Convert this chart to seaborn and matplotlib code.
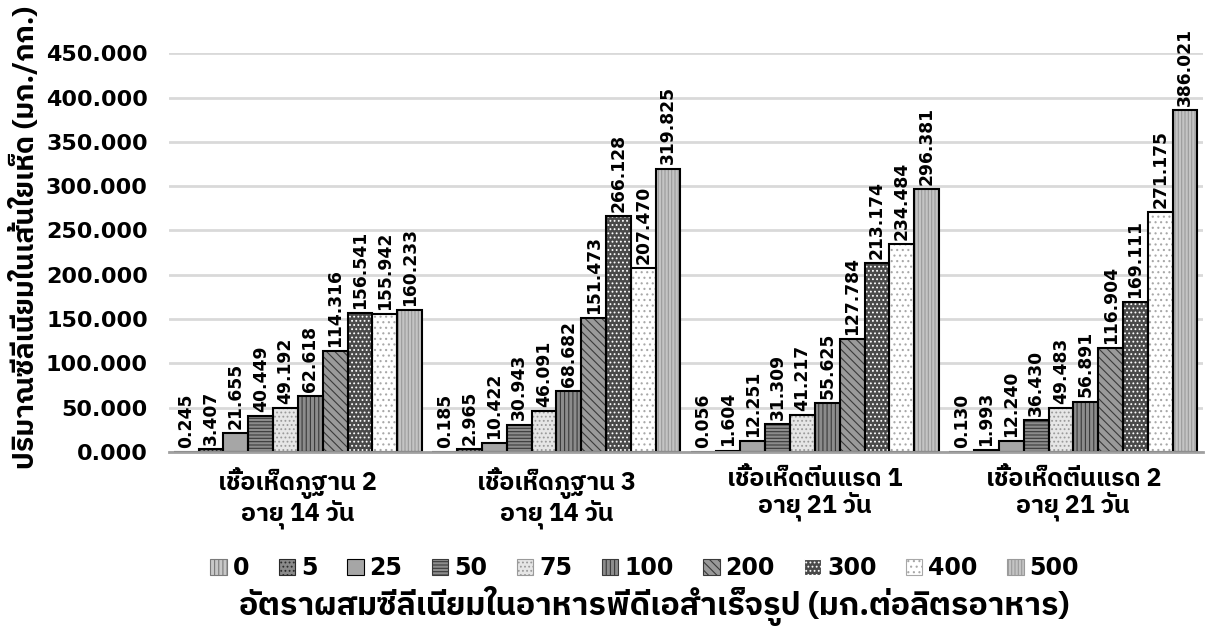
import numpy as np
import pandas as pd
import matplotlib
matplotlib.use("Agg")
import matplotlib.pyplot as plt
import matplotlib.patches as mpatches
from matplotlib import font_manager
from matplotlib.ft2font import FT2Font
import seaborn as sns

# --- data -------------------------------------------------------------------
groups = [
    "เชื้อเห็ดภูฐาน 2\nอายุ 14 วัน",
    "เชื้อเห็ดภูฐาน 3\nอายุ 14 วัน",
    "เชื้อเห็ดตีนแรด 1\nอายุ 21 วัน",
    "เชื้อเห็ดตีนแรด 2\nอายุ 21 วัน",
]
doses = ["0", "5", "25", "50", "75", "100", "200", "300", "400", "500"]

bhutan_2 = [0.245, 3.407, 21.655, 40.449, 49.192, 62.618, 114.316, 156.541, 155.942, 160.233]
bhutan_3 = [0.185, 2.965, 10.422, 30.943, 46.091, 68.682, 151.473, 266.128, 207.470, 319.825]
teenrad_1 = [0.056, 1.604, 12.251, 31.309, 41.217, 55.625, 127.784, 213.174, 234.484, 296.381]
teenrad_2 = [0.130, 1.993, 12.240, 36.430, 49.483, 56.891, 116.904, 169.111, 271.175, 386.021]

y_ticks = [0, 50, 100, 150, 200, 250, 300, 350, 400, 450]
x_title = "อัตราผสมซีลีเนียมในอาหารพีดีเอสำเร็จรูป (มก.ต่อลิตรอาหาร)"
y_title = "ปริมาณซีลีเนียมในเส้นใยเห็ด (มก./กก.)"

# --- bar styling per dose: face colour, hatch, hatch colour -----------------
faces = ["#c8c8c8", "#8a8a8a", "#a6a6a6", "#8c8c8c", "#e6e6e6",
         "#8c8c8c", "#9a9a9a", "#4a4a4a", "#ffffff", "#c4c4c4"]
hatches = ["||||", "....", "", "-----", "....",
           "||||", "\\\\\\\\", "....", "...", "|||||"]
hatch_cols = ["#7a7a7a", "#2a2a2a", "#a6a6a6", "#3a3a3a", "#9a9a9a",
              "#3a3a3a", "#3a3a3a", "#ffffff", "#a8a8a8", "#9a9a9a"]


def thai_family():
    preferred = []
    others = []
    for entry in font_manager.fontManager.ttflist:
        try:
            cmap = FT2Font(entry.fname).get_charmap()
        except Exception:
            continue
        if 0x0E2D in cmap and 0x0E40 in cmap:
            if "Thai" in entry.name:
                preferred.append(entry.name)
            else:
                others.append(entry.name)
    found = preferred + others
    return found[0] if found else None


sns.set_theme(style="white")
thai = thai_family()
families = ([thai] if thai else []) + ["DejaVu Sans"]
plt.rcParams["font.family"] = families
plt.rcParams["hatch.linewidth"] = 0.8
plt.rcParams["text.color"] = "black"
plt.rcParams["xtick.color"] = "black"
plt.rcParams["ytick.color"] = "black"

series = [bhutan_2, bhutan_3, teenrad_1, teenrad_2]
df = pd.DataFrame({
    "group": np.repeat(groups, len(doses)),
    "dose": doses * len(groups),
    "value": np.concatenate(series),
})

fig = plt.figure(figsize=(12.05, 6.26), dpi=100)
ax = fig.add_axes([0.140, 0.278, 0.858, 0.637])

sns.barplot(data=df, x="group", y="value", hue="dose", order=groups,
            hue_order=doses, palette=faces, width=0.96, ax=ax,
            edgecolor="black", linewidth=1.3, legend=False, errorbar=None,
            saturation=1, zorder=3)

# hatch overlays and outlines on top of every bar
for ci, cont in enumerate(ax.containers):
    for bar in cont.patches:
        if hatches[ci]:
            ov = mpatches.Rectangle(bar.get_xy(), bar.get_width(), bar.get_height(),
                                    facecolor="none", edgecolor=hatch_cols[ci],
                                    hatch=hatches[ci], linewidth=0, zorder=3.5)
            ax.add_patch(ov)
        outline = mpatches.Rectangle(bar.get_xy(), bar.get_width(), bar.get_height(),
                                     facecolor="none", edgecolor="black",
                                     linewidth=1.5, zorder=3.6)
        ax.add_patch(outline)
    vals = [p.get_height() for p in cont.patches]
    ax.bar_label(cont, labels=[f"{v:.3f}" for v in vals], rotation=90,
                 padding=3, fontsize=12.3, fontweight="bold",
                 fontfamily="DejaVu Sans", color="black")

ax.set_ylim(0, 450)
ax.set_xlim(-0.5, 3.5)
ax.set_yticks(y_ticks)
ax.set_yticklabels([f"{t:.3f}" for t in y_ticks], fontsize=16,
                   fontweight="bold", fontfamily="DejaVu Sans")
ax.tick_params(axis="y", length=0, pad=15)
ax.tick_params(axis="x", length=0, pad=11)
for lbl in ax.get_xticklabels():
    lbl.set_fontsize(18)
    lbl.set_fontweight("heavy")
    lbl.set_linespacing(1.0)
    lbl.set_color("black")

ax.yaxis.grid(True, color="#d9d9d9", linewidth=2, zorder=0)
ax.set_axisbelow(True)
for s in ["top", "right", "left"]:
    ax.spines[s].set_visible(False)
ax.spines["bottom"].set_color("#a0a0a0")
ax.spines["bottom"].set_linewidth(2)
ax.spines["bottom"].set_zorder(4)

ax.set_xlabel("")
ax.set_ylabel("")
fig.text(0.021, 0.62, y_title, rotation=90, ha="center", va="center",
         fontsize=20.5, fontweight="heavy")
fig.text(0.543, 0.032, x_title, ha="center", va="center",
         fontsize=23, fontweight="heavy")

handles = [mpatches.Patch(facecolor=faces[i],
                          edgecolor=hatch_cols[i] if hatches[i] else "black",
                          hatch=hatches[i], linewidth=0.8, label=d)
           for i, d in enumerate(doses)]
fig.legend(handles=handles, loc="center", bbox_to_anchor=(0.535, 0.092),
           ncol=10, frameon=False, handlelength=0.7, handleheight=0.7,
           handletextpad=0.25, columnspacing=1.25,
           prop={"size": 17, "weight": "heavy",
                 "family": ["DejaVu Sans"]})

fig.savefig("out.png", dpi=100)
